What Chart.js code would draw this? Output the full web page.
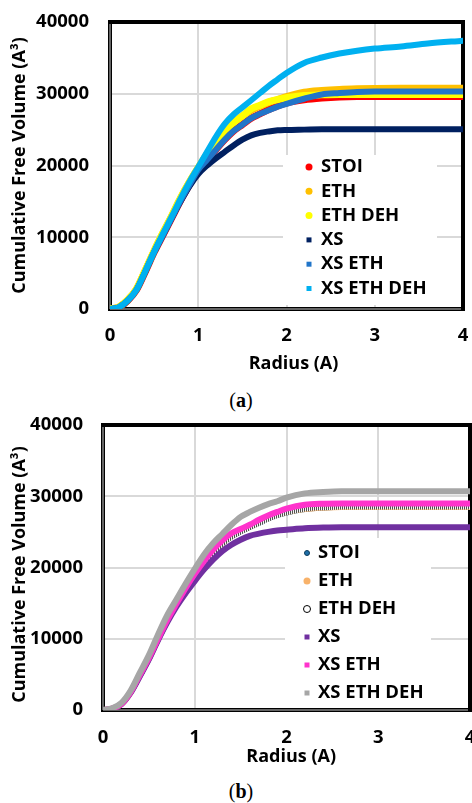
<!DOCTYPE html>
<html>
<head>
<meta charset="utf-8">
<script src="https://cdn.jsdelivr.net/npm/chart.js@4.4.1/dist/chart.umd.min.js"></script>
<style>
  html, body { margin: 0; padding: 0; background: #fff; }
  body { width: 472px; height: 803px; overflow: hidden; position: relative; }
  .box { position: absolute; left: 0; }
  #boxA { top: 0; width: 472px; height: 380px; }
  #boxB { top: 412px; width: 490px; height: 358px; }
  .cap { position: absolute; left: 5px; width: 472px; text-align: center; line-height: 24px;
         font-family: 'Liberation Serif', 'DejaVu Serif', serif; font-size: 20px; color: #000; }
</style>
</head>
<body>
<div class="box" id="boxA"><canvas id="chartA" width="472" height="380"></canvas></div>
<div class="box" id="boxB"><canvas id="chartB" width="490" height="358"></canvas></div>
<div class="cap" style="top:388px">(<b>a</b>)</div>
<div class="cap" style="top:779px">(<b>b</b>)</div>
<script>
// radius (A) sampled along the curves
const radius = [0, 0.1, 0.2, 0.3, 0.4, 0.5, 0.6, 0.7, 0.8, 0.9, 1.0, 1.1, 1.2, 1.3, 1.4, 1.5, 1.6, 1.7, 1.8, 1.9, 2.0, 2.2, 2.4, 2.6, 2.8, 3.0, 3.3, 3.6, 4.0];
const seriesNames = ['STOI', 'ETH', 'ETH DEH', 'XS', 'XS ETH', 'XS ETH DEH'];
const xTicks = [0, 1, 2, 3, 4];
const yTicks = [0, 10000, 20000, 30000, 40000];

// (a) cumulative free volume (A^3)
const stoiA     = [0, 230, 1150, 2650, 5200, 7900, 10300, 12700, 15100, 17300, 19400, 20800, 22200, 23600, 24800, 25700, 26600, 27200, 27800, 28300, 28700, 29150, 29400, 29550, 29600, 29600, 29600, 29600, 29600];
const ethA      = [0, 260, 1250, 2800, 5400, 8100, 10600, 13000, 15500, 17700, 19700, 21600, 23400, 24900, 26000, 26900, 27700, 28300, 28800, 29200, 29600, 30200, 30450, 30600, 30680, 30720, 30750, 30750, 30750];
const ethDehA   = [0, 260, 1250, 2800, 5400, 8100, 10600, 13000, 15500, 17700, 19700, 21600, 23400, 24900, 26000, 26900, 27900, 28400, 28900, 29200, 29450, 29750, 29850, 29900, 29900, 29900, 29900, 29900, 29900];
const xsA       = [0, 230, 1150, 2650, 5200, 7900, 10300, 12700, 15000, 17100, 18800, 20000, 21000, 21900, 22800, 23600, 24200, 24550, 24750, 24900, 24950, 25000, 25050, 25050, 25050, 25050, 25050, 25050, 25050];
const xsEthA    = [0, 230, 1150, 2650, 5200, 7900, 10300, 12700, 15100, 17300, 19400, 20800, 22200, 23600, 24800, 25700, 26600, 27200, 27700, 28200, 28600, 29300, 29900, 30100, 30250, 30300, 30300, 30300, 30300];
const xsEthDehA = [0, 250, 1200, 2700, 5300, 8000, 10500, 12900, 15400, 17700, 19800, 21900, 24000, 25800, 27100, 28100, 29100, 30100, 31100, 32000, 32900, 34300, 35050, 35600, 36000, 36300, 36600, 37000, 37400];

// (b) cumulative free volume (A^3)
const stoiB     = [0, 180, 800, 2400, 4700, 7100, 9800, 12400, 14700, 16900, 18800, 20500, 22000, 23300, 24300, 25000, 25600, 26200, 26800, 27300, 27650, 28150, 28350, 28450, 28450, 28450, 28450, 28450, 28450];
const ethB      = [0, 190, 830, 2450, 4800, 7200, 9900, 12500, 14800, 17000, 18900, 20600, 22100, 23400, 24400, 25100, 25700, 26300, 26900, 27400, 27750, 28200, 28400, 28500, 28500, 28500, 28500, 28500, 28500];
const ethDehB   = [0, 180, 800, 2400, 4700, 7100, 9800, 12400, 14700, 16900, 18800, 20500, 22000, 23300, 24300, 25000, 25600, 26200, 26800, 27300, 27700, 28200, 28400, 28500, 28500, 28500, 28500, 28500, 28500];
const xsB       = [0, 180, 800, 2400, 4700, 7100, 9800, 12300, 14500, 16400, 18100, 19700, 21100, 22300, 23200, 23900, 24450, 24750, 25000, 25200, 25300, 25500, 25600, 25650, 25650, 25650, 25650, 25650, 25650];
const xsEthB    = [0, 200, 850, 2500, 4900, 7300, 10000, 12600, 14900, 17100, 19100, 20900, 22500, 23800, 24800, 25400, 26000, 26700, 27300, 27800, 28250, 28800, 28950, 29000, 29000, 29000, 29000, 29000, 29000];
const xsEthDehB = [0, 250, 1000, 2700, 5200, 7700, 10600, 13300, 15500, 17700, 19800, 21800, 23400, 24700, 26000, 27100, 27800, 28400, 28900, 29300, 29800, 30400, 30600, 30700, 30700, 30700, 30700, 30700, 30700];

function hatch() {
    const c = document.createElement('canvas');
    c.width = 2; c.height = 2;
    const g = c.getContext('2d');
    g.fillStyle = '#f4f4f4'; g.fillRect(0, 0, 2, 2);
    g.fillStyle = '#505050'; g.fillRect(0, 0, 1, 2);
    return g.createPattern(c, 'repeat');
}

const stylesA = [
    { color: '#ff0000', width: 7, marker: { shape: 'circle', size: 7, fill: '#ff0000' } },
    { color: '#ffc000', width: 7, marker: { shape: 'circle', size: 7, fill: '#ffc000' } },
    { color: '#ffff00', width: 7, marker: { shape: 'circle', size: 7, fill: '#ffff00' } },
    { color: '#002060', width: 6, marker: { shape: 'rect', size: 5, fill: '#002060' } },
    { color: '#2175c9', width: 6, marker: { shape: 'rect', size: 5, fill: '#2175c9' } },
    { color: '#00b0f0', width: 6, marker: { shape: 'rect', size: 5, fill: '#00b0f0' } }
];
const stylesB = [
    { color: '#1f78b4', width: 5, marker: { shape: 'circle', size: 5, fill: '#1f6fa8', stroke: '#0b3c5d' } },
    { color: '#f8b26a', width: 6, marker: { shape: 'circle', size: 7, fill: '#f8b26a' } },
    { color: hatch(), width: 5, marker: { shape: 'circle', size: 7, fill: '#ffffff', stroke: '#000000' } },
    { color: '#7030a0', width: 6, marker: { shape: 'rect', size: 5, fill: '#7030a0' } },
    { color: '#ff33cc', width: 6, marker: { shape: 'rect', size: 5, fill: '#ff33cc' } },
    { color: '#a6a6a6', width: 6, marker: { shape: 'rect', size: 5, fill: '#a6a6a6' } }
];

Chart.defaults.font.family = "'Open Sans', sans-serif";
Chart.defaults.font.size = 18;
Chart.defaults.font.weight = 'bold';
Chart.defaults.color = '#000';

// thick plot frame, drawn under the data like in the original
const framePlugin = {
    id: 'frame',
    beforeDatasetsDraw(chart) {
        const { ctx, chartArea: a } = chart;
        ctx.save();
        ctx.strokeStyle = '#000';
        ctx.lineWidth = 4;
        ctx.strokeRect(a.left, a.top, a.right - a.left, a.bottom - a.top);
        ctx.strokeStyle = '#c8c8c8';
        ctx.lineWidth = 1;
        ctx.beginPath();
        ctx.moveTo(a.left, a.top + 2);
        ctx.lineTo(a.left, a.bottom);
        ctx.lineTo(a.right - 2, a.bottom);
        ctx.stroke();
        ctx.restore();
    }
};

// legend inside the plot area
const insideLegend = {
    id: 'insideLegend',
    afterDatasetsDraw(chart, args, o) {
        const ctx = chart.ctx;
        ctx.save();
        ctx.fillStyle = '#fff';
        ctx.fillRect(o.x, o.y, o.w, o.h);
        ctx.font = "bold 18.5px 'Open Sans'";
        ctx.textBaseline = 'middle';
        chart.data.datasets.forEach((ds, i) => {
            const y = o.rowY + i * o.rowGap;
            const m = ds.marker;
            ctx.beginPath();
            if (m.shape === 'circle') ctx.arc(o.markerX, y, m.size / 2, 0, Math.PI * 2);
            else ctx.rect(o.markerX - m.size / 2, y - m.size / 2, m.size, m.size);
            ctx.fillStyle = m.fill;
            ctx.fill();
            if (m.stroke) { ctx.strokeStyle = m.stroke; ctx.lineWidth = 1; ctx.stroke(); }
            ctx.fillStyle = '#000';
            ctx.fillText(ds.label, o.textX, y);
        });
        ctx.restore();
    }
};

function buildChart(id, values, styles, L) {
    const datasets = seriesNames.map((name, i) => ({
        label: name,
        data: radius.map((r, k) => ({ x: r, y: values[i][k] })),
        borderColor: styles[i].color,
        borderWidth: styles[i].width,
        marker: styles[i].marker,
        pointRadius: 0,
        cubicInterpolationMode: 'monotone',
        borderCapStyle: 'round',
        borderJoinStyle: 'round',
        order: seriesNames.length - i
    }));

    return new Chart(document.getElementById(id), {
        type: 'line',
        data: { datasets },
        options: {
            responsive: false,
            animation: false,
            events: [],
            layout: { padding: { left: 0, top: L.top, right: L.right, bottom: 0 } },
            plugins: {
                legend: { display: false },
                tooltip: { enabled: false },
                insideLegend: L.legend
            },
            scales: {
                x: {
                    type: 'linear',
                    min: 0, max: 4,
                    afterBuildTicks: s => { s.ticks = xTicks.map(v => ({ value: v })); },
                    afterFit: s => { s.height = L.xHeight; s.paddingLeft = 0; s.paddingRight = 0; },
                    grid: { color: '#d9d9d9', lineWidth: 2, drawTicks: false },
                    border: { display: false },
                    ticks: { padding: L.xPad, font: { size: 18.5 }, callback: v => v },
                    title: { display: true, text: L.xTitle, padding: { top: 0, bottom: L.xTitlePad } }
                },
                y: {
                    min: 0, max: 40000,
                    afterBuildTicks: s => { s.ticks = yTicks.map(v => ({ value: v })); },
                    afterFit: s => { s.width = L.yWidth; s.paddingTop = 0; s.paddingBottom = 0; },
                    grid: { color: '#d9d9d9', lineWidth: 2, drawTicks: false },
                    border: { display: false },
                    ticks: { padding: L.yPad, font: { size: 18.5 }, callback: v => v },
                    title: { display: true, text: L.yTitle, padding: { top: 9, bottom: 0 } }
                }
            }
        },
        plugins: [framePlugin, insideLegend]
    });
}

buildChart('chartA', [stoiA, ethA, ethDehA, xsA, xsEthA, xsEthDehA], stylesA, {
    top: 22, right: 9, yWidth: 110, xHeight: 71, xPad: 16, yPad: 21, xTitlePad: 5,
    xTitle: '   Radius (A)',
    yTitle: 'Cumulative Free Volume (A³)',
    legend: { x: 283, y: 155, w: 154, h: 150, rowY: 167, rowGap: 24.3, markerX: 309, textX: 321 }
});

buildChart('chartB', [stoiB, ethB, ethDehB, xsB, xsEthB, xsEthDehB], stylesB, {
    top: 13, right: 20, yWidth: 103, xHeight: 60, xPad: 17, yPad: 20, xTitlePad: 2,
    xTitle: '  Radius (A)',
    yTitle: 'Cumulative Free Volume (A³)   ',
    legend: { x: 285, y: 126, w: 146, h: 170, rowY: 141, rowGap: 28, markerX: 307, textX: 318 }
});
</script>
</body>
</html>
